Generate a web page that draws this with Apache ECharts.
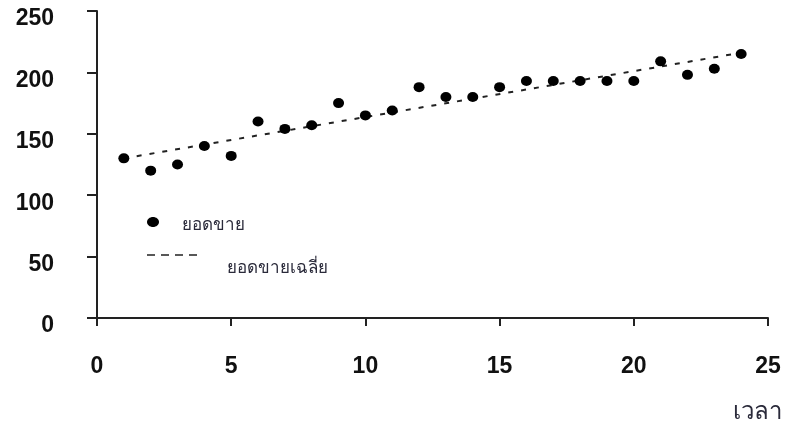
<!DOCTYPE html>
<html>
<head>
<meta charset="utf-8">
<script src="https://cdn.jsdelivr.net/npm/echarts@6/dist/echarts.min.js"></script>
<style>html,body{margin:0;padding:0;background:#fff}#c{width:787px;height:425px}</style>
</head>
<body>
<div id="c"></div>
<script>
var timeX = [1,2,3,4,5,6,7,8,9,10,11,12,13,14,15,16,17,18,19,20,21,22,23,24];
var sales = [130,120,125,140,132,160,154,157,175,165,169,188,180,180,188,193,193,193,193,193,209,198,203,215];
var trendX = [1,24];
var trendY = [130,216];
var salesName = 'ยอดขาย';
var trendName = 'ยอดขายเฉลี่ย';
var xAxisName = 'เวลา';

var chart = echarts.init(document.getElementById('c'));
var font = 'Liberation Sans, Arial, sans-serif';
var thaiFont = 'Noto Sans, DejaVu Sans, sans-serif';
chart.setOption({
  animation:false,
  backgroundColor:'#fff',
  grid:{left:97, right:19, top:11, bottom:107},
  xAxis:{type:'value', min:0, max:25, interval:5,
    axisLine:{show:true, lineStyle:{color:'#222', width:2}},
    axisTick:{show:true, inside:false, length:8, lineStyle:{color:'#222', width:2}},
    splitLine:{show:false},
    axisLabel:{margin:37, fontFamily:font, fontWeight:'bold', fontSize:23, color:'#111'}
  },
  yAxis:{type:'value', min:0, max:250, interval:50,
    axisLine:{show:true, lineStyle:{color:'#222', width:2}},
    axisTick:{show:true, inside:false, length:10, lineStyle:{color:'#222', width:2}},
    splitLine:{show:false},
    axisLabel:{margin:43, fontFamily:font, fontWeight:'bold', fontSize:23, color:'#111',
      verticalAlign:'top', lineHeight:16}
  },
  series:[
    {name:trendName, type:'line', data:trendX.map(function(x,i){return [x,trendY[i]];}),
     symbol:'none', lineStyle:{color:'#222', width:2, type:[5,8]}, z:1},
    {name:salesName, type:'scatter', data:timeX.map(function(x,i){return [x,sales[i]];}),
     symbol:'circle', symbolSize:[11,10], itemStyle:{color:'#000', opacity:1}, z:2}
  ],
  graphic:[
    {type:'ellipse', shape:{cx:153, cy:222, rx:6, ry:5}, style:{fill:'#000'}},
    {type:'text', x:182, y:225, style:{text:salesName, fontSize:17, fill:'#2a2a3a', fontFamily:thaiFont, verticalAlign:'middle'}},
    {type:'line', shape:{x1:147, y1:255, x2:202, y2:255}, style:{stroke:'#222', lineWidth:1.5, lineDash:[8,6]}},
    {type:'text', x:227, y:268, style:{text:trendName, fontSize:17, fill:'#2a2a3a', fontFamily:thaiFont, verticalAlign:'middle'}},
    {type:'text', x:733, y:412, style:{text:xAxisName, fontSize:24, fill:'#2a2a3a', fontFamily:thaiFont, verticalAlign:'middle'}}
  ]
});
</script>
</body>
</html>
